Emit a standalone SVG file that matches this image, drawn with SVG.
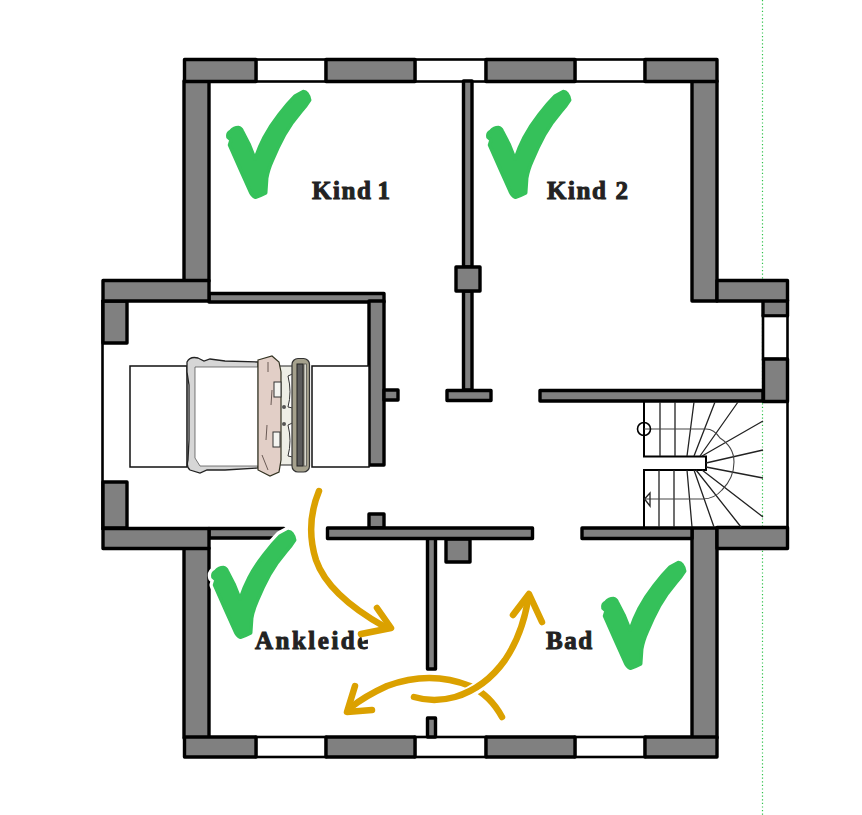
<svg xmlns="http://www.w3.org/2000/svg" width="862" height="815" viewBox="0 0 862 815">
<style>
.w{fill:#808080;stroke:#000;stroke-width:3.4;stroke-linejoin:round}
.g{fill:#fff;stroke:#000;stroke-width:2.6}
.s{fill:none;stroke:#222;stroke-width:1.3}
.t{font-family:"Liberation Serif",serif;font-weight:bold;font-size:25px;fill:#222;stroke:#222;stroke-width:1;letter-spacing:1.6px}
.a{fill:none;stroke:#dba100;stroke-width:6.5;stroke-linecap:round;stroke-linejoin:round}
.h{fill:none;stroke:#fff;stroke-width:12}
.b{stroke:#333;stroke-width:1}
.c{fill:#35c15a;stroke:#35c15a;stroke-width:3.5;stroke-linejoin:round}
.ch{fill:#fff;stroke:#fff;stroke-width:10;stroke-linejoin:round}
</style>
<defs>
<path id="ck" d="M303.3 91.500Q308 92 309.700 100Q306 106 301 111.700Q292 122 284.500 135Q278 147 272.500 160Q268 170 266.700 178.300L265.700 193Q260 196 255.500 197.300Q252 196 250 191L241 171L229.500 145L231 140L228 137.300Q227 133 231 131Q234 127.500 238.300 127.500Q241 128 242.300 131L249 144L255 159Q259 147 264 137.500Q270 126 279 114.500Q287 104 295 96Z"/>
<clipPath id="cl"><rect x="250" y="620" width="118" height="40"/></clipPath>
</defs>
<rect width="862" height="815" fill="#fff"/>
<line x1="762.500" y1="0" x2="762.500" y2="815" stroke="#2ec24a" stroke-width="1.200" stroke-dasharray="1.200 2.400"/>

<!-- outer walls -->
<rect class="w" x="184" y="81" width="25" height="200"/>
<rect class="w" x="692" y="81" width="25" height="220"/>
<rect class="w" x="184" y="548" width="25" height="190"/>
<rect class="w" x="692" y="528" width="25" height="210"/>
<!-- top -->
<rect class="g" x="256" y="59.500" width="70" height="22"/>
<rect class="g" x="415" y="59.500" width="71" height="22"/>
<rect class="g" x="575" y="59.500" width="70" height="22"/>
<rect class="w" x="184.500" y="59.500" width="71.500" height="22"/>
<rect class="w" x="326" y="59.500" width="89" height="22"/>
<rect class="w" x="486" y="59.500" width="89" height="22"/>
<rect class="w" x="645" y="59.500" width="72" height="22"/>
<!-- bottom -->
<rect class="g" x="256" y="737" width="70" height="20"/>
<rect class="g" x="415" y="737" width="71" height="20"/>
<rect class="g" x="575" y="737" width="70" height="20"/>
<rect class="w" x="184.500" y="737" width="71.500" height="20"/>
<rect class="w" x="326" y="737" width="89" height="20"/>
<rect class="w" x="486" y="737" width="89" height="20"/>
<rect class="w" x="645" y="737" width="72" height="20"/>
<!-- left bay -->
<line x1="102.500" y1="300" x2="102.500" y2="530" stroke="#000" stroke-width="2.600"/>
<rect class="w" x="209" y="293.500" width="175" height="8.500"/>
<rect class="w" x="103" y="301" width="24" height="42"/>
<rect class="w" x="103" y="482" width="24" height="46"/>
<rect class="w" x="369" y="301" width="15" height="164"/>
<rect class="w" x="384" y="390" width="14" height="10"/>
<rect class="w" x="103" y="280.500" width="106" height="20.500"/>
<rect class="w" x="209" y="528.500" width="75" height="9.500"/>
<rect class="w" x="103" y="528.500" width="106" height="20"/>
<!-- right bay -->
<rect class="w" x="763" y="300" width="24.500" height="16"/>
<rect class="g" x="763" y="316" width="24.500" height="43" stroke-width="2"/>
<line x1="787.500" y1="402" x2="787.500" y2="528" stroke="#000" stroke-width="2.600"/>
<rect class="w" x="540" y="390.500" width="223" height="10.500"/>
<rect class="w" x="763.500" y="359" width="24" height="42.500"/>
<rect class="w" x="717" y="280.500" width="70.500" height="20.500"/>
<rect class="w" x="582" y="528" width="110" height="10.500"/>
<rect class="w" x="717" y="527.500" width="70.500" height="21"/>
<!-- interior walls -->
<rect class="w" x="463.500" y="81" width="8.500" height="186"/>
<rect class="w" x="463.500" y="291" width="8.500" height="99"/>
<rect class="w" x="456" y="267" width="24" height="24"/>
<rect class="w" x="447" y="390.500" width="44" height="10"/>
<rect class="w" x="369" y="514" width="15" height="14"/>
<rect class="w" x="427.500" y="538" width="8" height="131"/>
<rect class="w" x="446" y="539" width="24" height="23"/>
<rect class="w" x="427.500" y="718" width="8" height="19"/>
<rect class="w" x="327.500" y="528" width="205" height="10.500"/>

<!-- stairs -->
<path d="M644 402V456.500H706V470H644V527" fill="none" stroke="#000" stroke-width="2"/>
<path class="s" d="M660 402V456M675 402V456M694 402L687 456M715 402L694 456M738 402L700 456M763 421L702 456M763 450L706 463M763 478L706 467M763 517L702 470M741 527L696 470M714 527L694 470M692 527L687 470M674 470V527M659 470V527"/>
<path d="M644 429H706Q714 429 720 438Q734 447 734 462Q734 478 722 490Q714 499 703 499H644" fill="none" stroke="#444" stroke-width="1.100"/>
<circle cx="644" cy="429" r="6.500" fill="none" stroke="#000" stroke-width="1.600"/>
<path d="M644.500 499L650 493V506Z" fill="none" stroke="#222" stroke-width="1.300"/>

<!-- bed -->
<rect x="130" y="366" width="57" height="101" fill="#fff" stroke="#111" stroke-width="1.500"/>
<rect x="312" y="366" width="57" height="101" fill="#fff" stroke="#111" stroke-width="1.500"/>
<path d="M187 362Q190 356 198 358L204 361L210 359L225 361L258 362V468L225 470L207 470L200 473L190 470Q186 467 188 460L189 440V385L187 372Z" fill="#d6d6d6" stroke="#222" stroke-width="1.300"/>
<path d="M195 367H258V466H200L195 458Z" fill="#fff" stroke="#444" stroke-width=".7"/>
<rect x="278" y="366" width="18" height="99" fill="#eeeee6" stroke="#222"/>
<path d="M258 360L272 356L279 362L281 372V460L279 472L270 476L258 470Z" fill="#e2cfc7" stroke="#332" stroke-width="1.200"/>
<path d="M268 362L268 372M272 390L271 405M267 425L266 440M262 455L268 470" stroke="#6a5a55" stroke-width="1" fill="none"/>
<path class="b" d="M288 376Q296 371 297 380V401Q296 410 288 407Q292 392 288 376Z" fill="#fff"/>
<path class="b" d="M288 425Q296 420 297 429V450Q296 459 288 456Q292 441 288 425Z" fill="#fff"/>
<rect class="b" x="274" y="382" width="7" height="15" fill="#f4f4f0"/>
<rect class="b" x="273" y="432" width="7" height="15" fill="#f4f4f0"/>
<circle cx="284" cy="407" r="2" fill="#555"/>
<circle cx="284" cy="424" r="2" fill="#555"/>
<rect x="292" y="358.500" width="17.500" height="113.500" rx="6" fill="#a5a18d" stroke="#333" stroke-width="1.200"/>
<rect x="297" y="364" width="6" height="102" fill="#5c5c5c" stroke="#222"/>
<rect x="304" y="364" width="2.500" height="102" fill="#d8d7cc" stroke="#333" stroke-width=".6"/>

<!-- labels -->
<text class="t" x="312" y="199" style="word-spacing:-3px">Kind 1</text>
<text class="t" x="547" y="199">Kind 2</text>
<text class="t" x="546" y="649">Bad</text>
<g clip-path="url(#cl)"><text class="t" x="255" y="649" style="letter-spacing:2.500px">Ankleide</text></g>

<!-- check marks -->
<use href="#ck" class="c"/>
<use href="#ck" x="260" class="c"/>
<use href="#ck" x="375" y="471" class="ch"/>
<use href="#ck" x="375" y="471" class="c"/>
<use href="#ck" x="-15" y="440" class="ch"/>
<use href="#ck" x="-15" y="440" class="c"/>

<!-- arrows -->
<path d="M319 491Q306 525 316 560Q328 595 385 627" class="h"/>
<path d="M377 608L391 628L361 635" class="h"/>
<path d="M319 491Q305 525 316 560Q328 595 385 627" class="a" stroke-width="5.500"/>
<path d="M377 608L391 628L361 634" class="a"/>
<path d="M502 717Q490 695 470 686Q430 670 387 686Q365 696 350 708" class="a" stroke-linecap="butt"/>
<path d="M355 686L347 712L372 710" class="a"/>
<path d="M445 700Q478 696 505 660Q522 635 528 600" class="h"/>
<path d="M414 697Q434 703 455 697Q485 688 505 660Q522 635 528 600" class="a" stroke-linecap="butt"/>
<path d="M513 615L529 594L542 622" class="a"/>
</svg>
